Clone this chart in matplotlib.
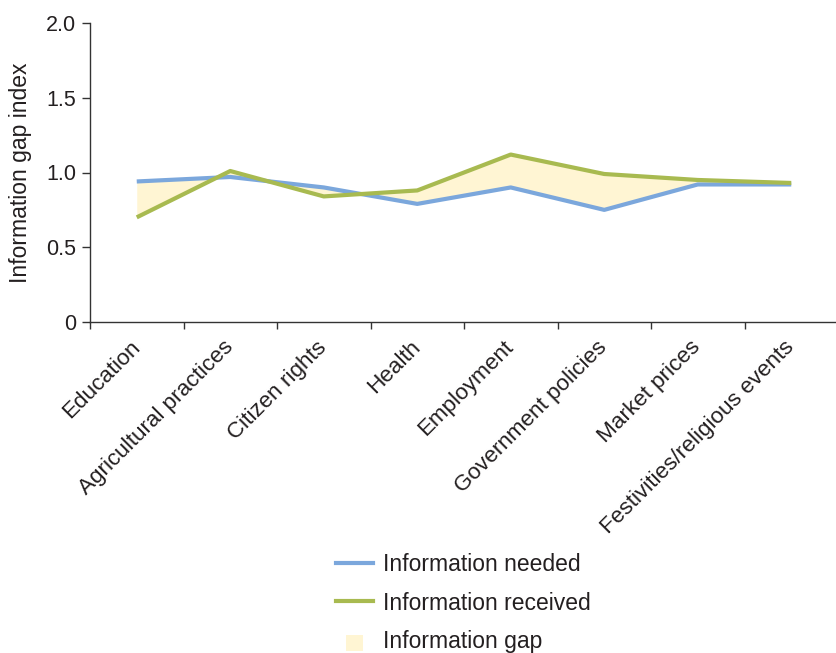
import matplotlib
matplotlib.use("Agg")
import matplotlib.pyplot as plt
import matplotlib.patches as mpatches
from matplotlib.lines import Line2D
from matplotlib.legend_handler import HandlerPatch
import numpy as np

categories = ["Education", "Agricultural practices", "Citizen rights", "Health",
              "Employment", "Government policies", "Market prices",
              "Festivities/religious events"]
info_needed = [0.94, 0.97, 0.90, 0.79, 0.90, 0.75, 0.92, 0.92]
info_received = [0.70, 1.01, 0.84, 0.88, 1.12, 0.99, 0.95, 0.93]
y_ticks = [0, 0.5, 1.0, 1.5, 2.0]
y_tick_labels = ["0", "0.5", "1.0", "1.5", "2.0"]

BLUE = "#7ba7dc"
GREEN = "#a8ba50"
FILL = "#fff5d3"
TEXT = "#231f20"

plt.rcParams["font.family"] = ["Liberation Sans", "DejaVu Sans"]
plt.rcParams["font.size"] = 15.5

fig = plt.figure(figsize=(8.36, 6.53), dpi=100)
ax = fig.add_axes([90 / 836, 1 - 322 / 653, 748 / 836, (322 - 23) / 653])

x = np.arange(len(categories))
ax.fill_between(x, info_needed, info_received, color=FILL, lw=0, zorder=1)
ax.plot(x, info_needed, color=BLUE, lw=3, zorder=2, solid_capstyle="butt")
ax.plot(x, info_received, color=GREEN, lw=3, zorder=3, solid_capstyle="butt")

ax.set_xlim(-0.5, len(categories) - 0.5)
ax.set_ylim(0, 2.0)
ax.set_yticks(y_ticks)
ax.set_yticklabels(y_tick_labels, color=TEXT, fontsize=15.5)
ax.set_ylabel("Information gap index", color=TEXT, fontsize=16.5, labelpad=10)

ax.set_xticks(x)
ax.set_xticklabels(categories, rotation=45, ha="right", va="center",
                   rotation_mode="anchor", color=TEXT, fontsize=16.2)
ax.set_xticks(np.arange(len(categories)) - 0.5, minor=True)
ax.tick_params(axis="x", which="major", length=0, pad=16)
ax.tick_params(axis="x", which="minor", length=5, width=1, color="#333333")
ax.tick_params(axis="y", length=6, width=1, color="#333333", pad=4)

for side in ("top", "right"):
    ax.spines[side].set_visible(False)
for side in ("left", "bottom"):
    ax.spines[side].set_color("#333333")
    ax.spines[side].set_linewidth(1)
ax.spines["left"].set_bounds(0, 2.0)


class SmallSquare(HandlerPatch):
    def create_artists(self, legend, orig_handle, xdescent, ydescent,
                       width, height, fontsize, trans):
        s = 12
        cx = -xdescent + width / 2
        cy = -ydescent + height / 2 - 2
        p = mpatches.Rectangle((cx - s / 2, cy - s / 2), s, s,
                               facecolor=FILL, edgecolor="none",
                               transform=trans)
        return [p]


handles = [Line2D([], [], color=BLUE, lw=3),
           Line2D([], [], color=GREEN, lw=3),
           mpatches.Patch(color=FILL)]
labels = ["Information needed", "Information received", "Information gap"]
leg = fig.legend(handles, labels, loc="center", bbox_to_anchor=(463 / 836, 1 - 603 / 653),
                 frameon=False, handlelength=1.65, handletextpad=0.4,
                 labelspacing=0.68, fontsize=16.5,
                 handler_map={mpatches.Patch: SmallSquare()})
for t in leg.get_texts():
    t.set_color(TEXT)

fig.savefig("out.png", dpi=100)
